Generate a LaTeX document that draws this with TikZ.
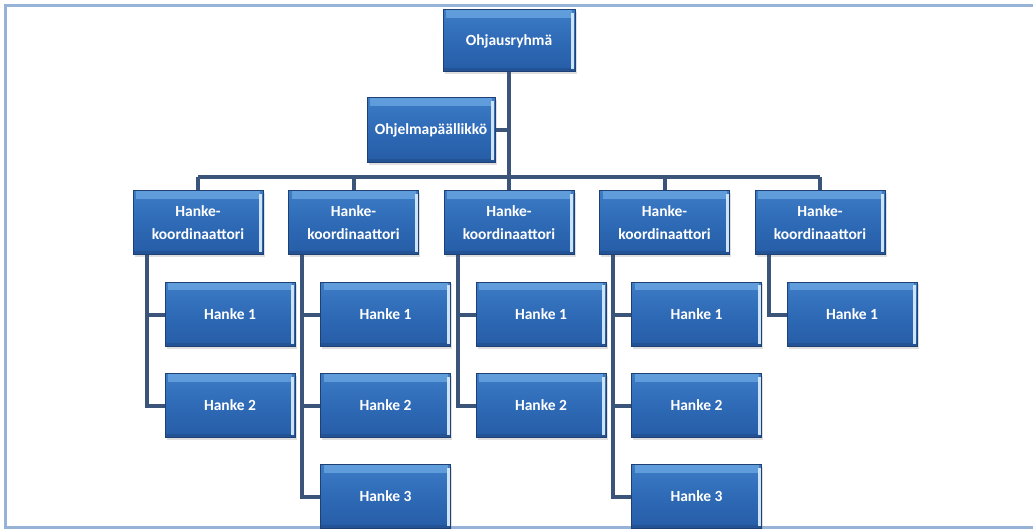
\documentclass[tikz,border=0pt]{standalone}
\usepackage{fontspec}
\setmainfont{Carlito}
\usetikzlibrary{positioning,shadows}
\definecolor{box_top}{RGB}{62,124,198}
\definecolor{box_mid}{RGB}{46,106,182}
\definecolor{box_bot}{RGB}{38,92,166}
\definecolor{box_out}{RGB}{30,64,116}
\definecolor{box_edge}{RGB}{205,228,248}
\definecolor{box_band}{RGB}{120,180,235}
\definecolor{link}{RGB}{58,84,122}
\definecolor{frame}{RGB}{150,178,214}
\newcommand\wid{130pt}
\newcommand\hgt{64pt}
\newcommand\boxfont{\bfseries\fontsize{15.5}{23}\selectfont}
\tikzset{org_box/.style = {rectangle, minimum width=\wid, minimum height=\hgt, inner sep=1pt, align=center, text=white, font=\boxfont,
	top color=box_top, bottom color=box_bot, middle color=box_mid, draw=box_out, line width=1pt,
	drop shadow={opacity=0.25, shadow xshift=1.5pt, shadow yshift=-2pt},
	path picture={
		\fill[box_band, opacity=0.6] ([xshift=3pt]path picture bounding box.north west) rectangle ([xshift=-3pt,yshift=-8pt]path picture bounding box.north east);
		\fill[box_out, opacity=0.35] (path picture bounding box.south west) rectangle ([yshift=4pt]path picture bounding box.south east);
		\draw[box_edge, line width=3pt] ([xshift=-2.5pt,yshift=-3pt]path picture bounding box.north east) -- ([xshift=-2.5pt,yshift=3pt]path picture bounding box.south east);
	}}}
\tikzset{org_link/.style = {line width=4pt, link}}
\tikzset{frame_line/.style = {line width=3pt, frame}}

\begin{document}
\begin{tikzpicture}[x=1pt,y=-1pt]
\useasboundingbox (0,0) rectangle (1033,529);
\draw[frame_line] (1033,6) -- (5,6) -- (5,527) -- (1033,527);

\node[org_box, minimum width=132pt, minimum height=62pt] (top) at (509,41) {Ohjausryhmä};
\node[org_box, minimum width=128pt, minimum height=65pt] (pm) at (431,130.5) {Ohjelmapäällikkö};
\coordinate (bar) at (509,177);

\foreach \i/\n in {1/2,2/3,3/2,4/3,5/1}{
	\node[org_box] (k\i) at (42.5+155.5*\i,223) {Hanke-\\koordinaattori};
	\foreach \j in {1,...,\n}{
		\node[org_box] (h\i\j) at (74.5+155.5*\i,223.5+91*\j) {Hanke \j};
		\draw[org_link] ([xshift=14pt]k\i.south west) |- (h\i\j.west);
		}
	\draw[org_link] (k\i.north) -- (k\i.north |- bar);
	}

\draw[org_link] (top.south) -- (top.south |- bar);
\draw[org_link] (k1.north |- bar) -- (k5.north |- bar);
\draw[org_link] (pm.east) -- (pm.east -| top.south);
\end{tikzpicture}
\end{document}
